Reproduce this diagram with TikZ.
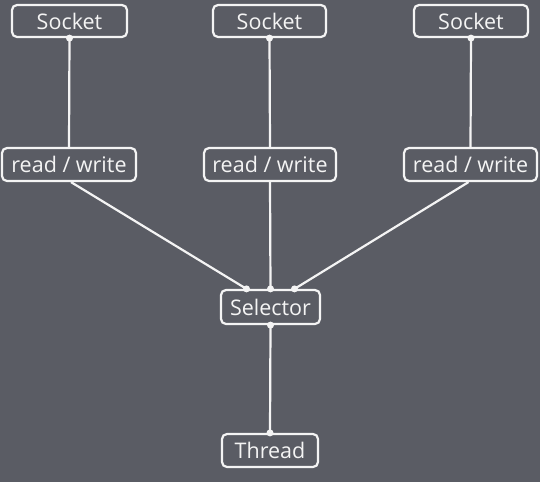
\documentclass[tikz,border=0pt]{standalone}
\usepackage{fontspec}
\setmainfont{Open Sans}
\usetikzlibrary{calc}
\definecolor{sbg}{HTML}{5A5C64}
\definecolor{sink}{HTML}{F4F4F4}
\tikzset{
  sbox/.style={
    rounded corners=5pt, draw=sink, line width=2.2pt, fill=sbg,
    text=sink, align=center, inner sep=0pt, minimum height=32pt,
    font=\fontsize{21.5}{23}\selectfont},
  sline/.style={draw=sink, line width=2.2pt},
  sdot/.style={fill=sink},
}

\begin{document}
\begin{tikzpicture}[x=1pt,y=-1pt]

% background
\fill[sbg] (0,0) rectangle (540,482);
\useasboundingbox (0,0) rectangle (540,482);

% sockets
\node[sbox,minimum width=115pt] (sock1) at (69.5,21) {Socket};
\node[sbox,minimum width=113pt] (sock2) at (269.5,21) {Socket};
\node[sbox,minimum width=114pt] (sock3) at (471,21) {Socket};

% read / write
\node[sbox,minimum width=134pt,minimum height=33pt] (rw1) at (69,164.5) {read / write};
\node[sbox,minimum width=132pt,minimum height=33pt] (rw2) at (270,164.5) {read / write};
\node[sbox,minimum width=133pt,minimum height=33pt] (rw3) at (470.5,164.5) {read / write};

% selector and thread
\node[sbox,minimum width=99pt,minimum height=34pt] (sel) at (270.5,307) {Selector};
\node[sbox,minimum width=96pt,minimum height=33pt] (thr) at (270,450.5) {Thread};

\coordinate (selL) at ($(sel.north)+(-24,0)$);
\coordinate (selR) at ($(sel.north)+(24,0)$);

% links
\draw[sline] (sock1.south) -- (rw1.north);
\draw[sline] (sock2.south) -- (rw2.north);
\draw[sline] (sock3.south) -- (rw3.north);
\draw[sline] ($(rw1.south)+(2,0)$) -- (selL);
\draw[sline] (rw2.south) -- (sel.north);
\draw[sline] ($(rw3.south)+(-2,0)$) -- (selR);
\draw[sline] (sel.south) -- (thr.north);

% dots
\foreach \p in {sock1.south,sock2.south,sock3.south,selL,sel.north,selR,sel.south,thr.north}
  \fill[sdot] (\p) circle (3.5pt);

\end{tikzpicture}
\end{document}
